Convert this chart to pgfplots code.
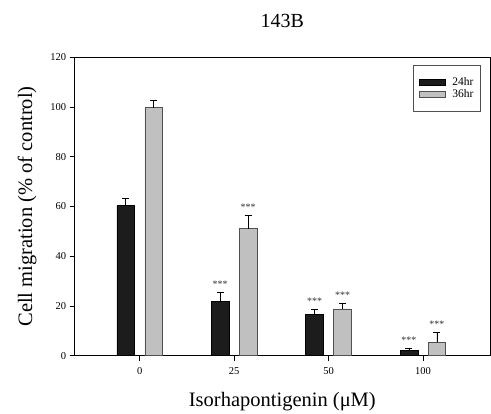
\documentclass[border=0pt]{standalone}
\usepackage{fontspec}
\setmainfont{Liberation Serif}
\usepackage{pgfplots}
\pgfplotsset{compat=1.18}

\definecolor{barblack}{HTML}{1C1C1C}
\definecolor{bargray}{HTML}{C0C0C0}
\definecolor{edgegray}{HTML}{505050}

\begin{document}
\begin{tikzpicture}
\begin{axis}[
    at={(0,0)}, anchor=south west,
    scale only axis,
    width=415.3pt, height=298.4pt,
    ybar,
    bar width=17.7pt,
    xmin=-0.69, xmax=3.71,
    ymin=0, ymax=120,
    xtick={0,1,2,3},
    xticklabels={0,25,50,100},
    ytick={0,20,...,120},
    tick align=outside,
    tick pos=left,
    major tick length=5pt,
    axis line style={line width=0.8pt},
    every tick/.style={black, line width=0.8pt},
    tick label style={font=\fontsize{10.5}{12}\selectfont},
    xticklabel style={yshift=-3pt},
    /pgf/number format/assume math mode=true,
    xlabel={Isorhapontigenin (μM)},
    ylabel={Cell migration (\% of control)},
    label style={font=\fontsize{20.5}{24}\selectfont},
    xlabel style={yshift=-11pt},
    ylabel style={yshift=7pt},
    title={143B},
    title style={font=\fontsize{20}{24}\selectfont, yshift=20pt},
    legend cell align=left,
    legend image code/.code={\draw[#1, line width=0.6pt] (0pt,-3pt) rectangle (26pt,3pt);},
    legend style={at={(0.978,0.974)}, anchor=north east,
        draw=edgegray, line width=0.8pt,
        font=\fontsize{11.5}{13}\selectfont,
        row sep=-1pt, column sep=5pt,
        inner xsep=5pt, inner ysep=10pt},
    error bars/y dir=plus,
    error bars/y explicit,
    error bars/error mark options={rotate=90, mark size=3.5pt, line width=0.8pt, black},
    error bars/error bar style={line width=0.8pt, black},
]
\addplot[fill=barblack, draw=black, line width=0.6pt, bar shift=-14pt]
    coordinates {(0,60.3) +- (0,3.1) (1,21.7) +- (0,3.7) (2,16.7) +- (0,2.0) (3,2.2) +- (0,0.8)};
\addplot[fill=bargray, draw=edgegray, line width=0.8pt, bar shift=14pt]
    coordinates {(0,99.8) +- (0,3.0) (1,51.0) +- (0,5.3) (2,18.8) +- (0,2.3) (3,5.5) +- (0,3.9)};
\legend{24hr, 36hr}

% significance marks above error bars
\node[anchor=base, xshift=-14pt, yshift=5pt, font=\fontsize{10}{12}\selectfont, text=black!80] at (axis cs:1,25.4) {***};
\node[anchor=base, xshift=14pt, yshift=5pt, font=\fontsize{10}{12}\selectfont, text=black!80] at (axis cs:1,56.3) {***};
\node[anchor=base, xshift=-14pt, yshift=5pt, font=\fontsize{10}{12}\selectfont, text=black!80] at (axis cs:2,18.7) {***};
\node[anchor=base, xshift=14pt, yshift=5pt, font=\fontsize{10}{12}\selectfont, text=black!80] at (axis cs:2,21.1) {***};
\node[anchor=base, xshift=-14pt, yshift=5pt, font=\fontsize{10}{12}\selectfont, text=black!80] at (axis cs:3,3.0) {***};
\node[anchor=base, xshift=14pt, yshift=5pt, font=\fontsize{10}{12}\selectfont, text=black!80] at (axis cs:3,9.4) {***};
\end{axis}
\pgfresetboundingbox
\path (-74.7pt,-58.3pt) rectangle (416.3pt,355.7pt);
\end{tikzpicture}
\end{document}
